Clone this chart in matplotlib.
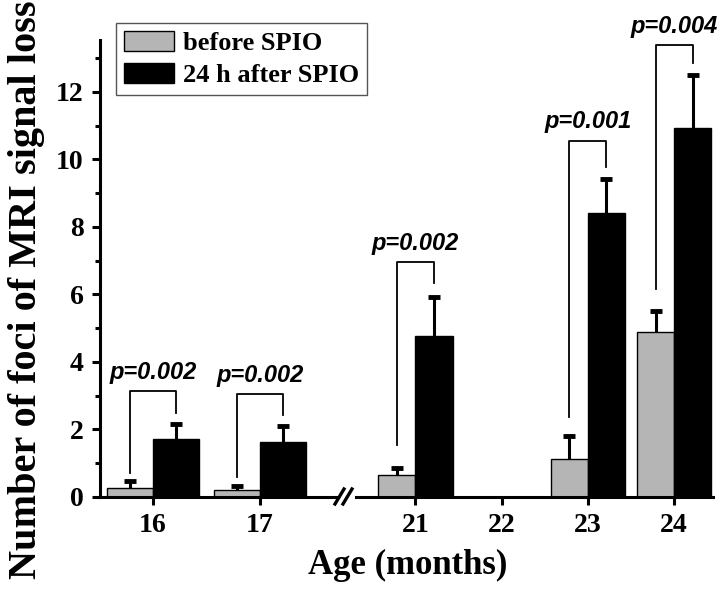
import matplotlib.pyplot as plt
from matplotlib.lines import Line2D

# values (mean, upper error)
ages = [16, 17, 21, 22, 23, 24]
before = [0.28, 0.21, 0.66, 0, 1.13, 4.89]
before_err = [0.20, 0.13, 0.20, 0, 0.67, 0.61]
after = [1.71, 1.64, 4.77, 0, 8.40, 10.93]
after_err = [0.44, 0.45, 1.17, 0, 1.03, 1.58]

# significance brackets
p_ages = [16, 17, 21, 23, 24]
p_labels = ['p=0.002', 'p=0.002', 'p=0.002', 'p=0.001', 'p=0.004']
bracket_top = [3.13, 3.04, 6.95, 10.55, 13.38]
bracket_left = [0.71, 0.59, 1.53, 2.38, 6.15]
bracket_right = [2.50, 2.43, 6.33, 9.78, 12.85]

left_ages = [16, 17]
right_ages = [21, 22, 23, 24]

GRAY = '#b5b5b5'
W = 0.43
W_PX, H_PX = 720., 590.

plt.rcParams['font.family'] = 'Liberation Serif'
plt.rcParams['font.weight'] = 'bold'


def upper_err(ax, x, y, err):
    # one-sided error bar: hide the cap at the bar top
    _, caps, _ = ax.errorbar(x, y, yerr=[[0] * len(x), err], fmt='none',
                             ecolor='black', elinewidth=2.2, capsize=4.5,
                             capthick=3.5)
    caps[0].set_visible(False)


def draw(ax, group):
    idx = [i for i, a in enumerate(ages) if a in group and after[i] > 0]
    xg = [ages[i] - W / 2 for i in idx]
    xb = [ages[i] + W / 2 for i in idx]
    b = [before[i] for i in idx]
    a = [after[i] for i in idx]
    ax.bar(xg, b, W, color=GRAY, edgecolor='black', linewidth=1,
           label='before SPIO')
    ax.bar(xb, a, W, color='black', edgecolor='black', linewidth=1,
           label='24 h after SPIO')
    upper_err(ax, xg, b, [before_err[i] for i in idx])
    upper_err(ax, xb, a, [after_err[i] for i in idx])
    for i, age in enumerate(p_ages):
        if age not in group:
            continue
        xl, xr = age - W / 2, age + W / 2
        ax.plot([xl, xl, xr, xr],
                [bracket_left[i], bracket_top[i], bracket_top[i], bracket_right[i]],
                color='black', lw=1.3, clip_on=False)
        ax.text(age, bracket_top[i] + 0.22, p_labels[i], ha='center',
                va='bottom', family='Liberation Sans', weight='bold',
                style='italic', fontsize=17, clip_on=False)
    ax.set_xticks(group)
    ax.set_xticklabels([str(g) for g in group])
    for s in ['top', 'right']:
        ax.spines[s].set_visible(False)
    for s in ['left', 'bottom']:
        ax.spines[s].set_linewidth(2.2)
    ax.tick_params(axis='both', which='major', direction='out', length=5.8,
                   width=2.2, labelsize=20, pad=6)
    ax.tick_params(axis='y', which='minor', direction='out', length=3.5,
                   width=2.2)


fig = plt.figure(figsize=(7.2, 5.9), dpi=100)
ax1 = fig.add_axes([100 / W_PX, 93 / H_PX, 238 / W_PX, 457 / H_PX])
ax2 = fig.add_axes([356 / W_PX, 93 / H_PX, 357 / W_PX, 457 / H_PX], sharey=ax1)

draw(ax1, left_ages)
draw(ax2, right_ages)

ax1.set_xlim(15.505, 15.505 + 238 / 107)
ax2.set_xlim(20.31, 20.31 + 357 / 86.2)
ax1.set_ylim(0, 13.54)
ax1.set_yticks(range(0, 13, 2))
ax1.set_yticks(range(1, 14, 2), minor=True)

ax2.spines['left'].set_visible(False)
ax2.tick_params(axis='y', which='both', left=False, labelleft=False)

# axis break marks
for dx in (0, 8):
    fig.add_artist(Line2D([(335 + dx) / W_PX, (344 + dx) / W_PX],
                          [1 - 504 / H_PX, 1 - 489 / H_PX],
                          color='black', lw=2.4))

handles, labels = ax1.get_legend_handles_labels()
leg = fig.legend(handles, labels, loc='upper left',
                 bbox_to_anchor=(116 / W_PX, 1 - 23 / H_PX), borderaxespad=0,
                 fancybox=False, edgecolor='#555555', framealpha=1,
                 handlelength=1.9, handleheight=0.8, fontsize=19,
                 borderpad=0.3, labelspacing=0.3, handletextpad=0.35)
leg.get_frame().set_linewidth(1)

fig.text(408 / W_PX, 1 - 565 / H_PX, 'Age (months)', ha='center',
         va='center', fontsize=25)
fig.text(27 / W_PX, 1 - 290 / H_PX, 'Number of foci of MRI signal loss',
         ha='center', va='center', rotation=90, fontsize=29)

fig.savefig('out.png', dpi=100)
